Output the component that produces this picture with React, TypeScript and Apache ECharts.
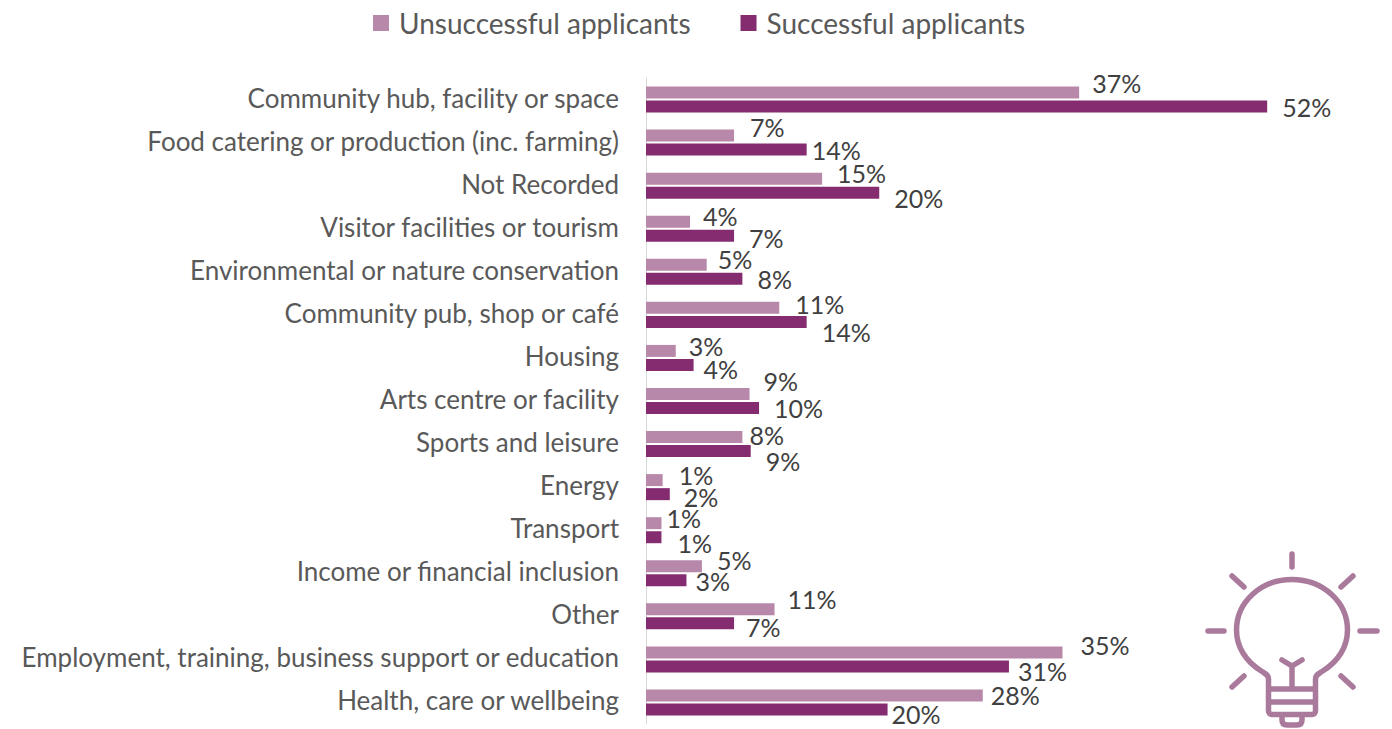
import React, { useEffect, useRef } from "react";
import * as echarts from "echarts";

const categories = [
  "Community hub, facility or space",
  "Food catering or production (inc. farming)",
  "Not Recorded",
  "Visitor facilities or tourism",
  "Environmental or nature conservation",
  "Community pub, shop or café",
  "Housing",
  "Arts centre or facility",
  "Sports and leisure",
  "Energy",
  "Transport",
  "Income or financial inclusion",
  "Other",
  "Employment, training, business support or education",
  "Health, care or wellbeing",
];
const unsuccessful = [36.4, 7.4, 14.8, 3.7, 5.1, 11.2, 2.5, 8.7, 8.1, 1.4, 1.3, 4.7, 10.8, 35.0, 28.3];
const successful = [52.2, 13.5, 19.6, 7.4, 8.1, 13.5, 4.0, 9.5, 8.8, 2.0, 1.3, 3.4, 7.4, 30.5, 20.3];
const unsuccessfulLabels = ["37%", "7%", "15%", "4%", "5%", "11%", "3%", "9%", "8%", "1%", "1%", "5%", "11%", "35%", "28%"];
const successfulLabels = ["52%", "14%", "20%", "7%", "8%", "14%", "4%", "10%", "9%", "2%", "1%", "3%", "7%", "31%", "20%"];

// label placement nudges, as in the source chart
const uDx = [13, 16, 15, 13, 11, 16, 13, 14, 7, 16, 5, 15, 13, 18, 8];
const uDy = [-10, -9, -6, -6, -6, -4, -5, -13, -2, -5, -5, -6, -10, -7, 0];
const sDx = [15, 5, 15, 15, 15, 15, 10, 15, 15, 14, 16, 9, 12, 9, 4];
const sDy = [0, 0, 5, 2, 0, 10, 4, 0, 10, 3, 6, 1, 4, 5, 5];

const FONT = "Lato";
const ICON = "#A97A9B";

const bulbPath =
  "M1268.5 689 L1268.5 679 C1268.5 675 1266 674 1262 671.5 C1246 662 1236.5 647 1236.5 630 C1236.5 602 1261 579.5 1292 579.5 C1323 579.5 1347.5 602 1347.5 630 C1347.5 647 1338 662 1322 671.5 C1318 674 1315.5 675 1315.5 679 L1315.5 689 " +
  "M1268.5 689 L1315.5 689 M1268.5 702 L1315.5 702 M1268.5 689 L1268.5 711 C1268.5 713 1270 714.5 1272 714.5 L1312 714.5 C1314 714.5 1315.5 713 1315.5 711 L1315.5 689 " +
  "M1282 714.5 L1282 720 C1282 723.5 1284 725 1287 725 L1297 725 C1300 725 1302 723.5 1302 720 L1302 714.5 " +
  "M1292 689 L1292 666 M1292 666 L1282 660 M1292 666 L1302 660 " +
  "M1292 554 L1292 567 M1208 631 L1224 631 M1360 631 L1377 631 M1232 576 L1244 587 M1353 576 L1341 587 M1232 687 L1244 676 M1353 687 L1341 676";

echarts.graphic.registerShape("bulb", echarts.graphic.extendPath(bulbPath, {}));

function makeData(values: number[], labels: string[], dx: number[], dy: number[]) {
  return values.map((value, i) => ({
    value,
    label: { formatter: labels[i], offset: [dx[i], dy[i]] },
  }));
}

export default function App() {
  const ref = useRef<HTMLDivElement>(null);
  useEffect(() => {
    const chart = echarts.init(ref.current!, undefined, { renderer: "svg" });
    const labelBase = {
      show: true,
      position: "right" as const,
      distance: 0,
      color: "#404040",
      fontFamily: FONT,
      fontSize: 25,
    };
    chart.setOption({
      animation: false,
      backgroundColor: "#ffffff",
      textStyle: { fontFamily: FONT },
      legend: {
        left: 368,
        top: 4,
        icon: "rect",
        itemWidth: 16,
        itemHeight: 16,
        itemGap: 50,
        textStyle: { color: "#595959", fontFamily: FONT, fontSize: 28, padding: [0, 0, 0, 5] },
        data: ["Unsuccessful applicants", "Successful applicants"],
      },
      grid: { left: 646, top: 78, width: 714, height: 646, containLabel: false },
      xAxis: { type: "value", min: 0, max: 60, show: false },
      yAxis: {
        type: "category",
        inverse: true,
        data: categories,
        axisLine: { show: true, lineStyle: { color: "#D9D9D9", width: 1 } },
        axisTick: { show: false },
        axisLabel: {
          margin: 27,
          interval: 0,
          formatter: "{a|{value}}",
          rich: { a: { color: "#595959", fontFamily: FONT, fontSize: 26, padding: [0, 0, 4, 0] } },
        },
      },
      series: [
        {
          name: "Unsuccessful applicants",
          type: "bar",
          barWidth: 12,
          barGap: "17%",
          itemStyle: { color: "#B788A9" },
          label: labelBase,
          data: makeData(unsuccessful, unsuccessfulLabels, uDx, uDy),
        },
        {
          name: "Successful applicants",
          type: "bar",
          barWidth: 12,
          itemStyle: { color: "#852C71" },
          label: labelBase,
          data: makeData(successful, successfulLabels, sDx, sDy),
        },
      ],
      graphic: [
        {
          type: "bulb",
          x: 0,
          y: 0,
          silent: true,
          style: { fill: "none", stroke: ICON, lineWidth: 5.5, lineCap: "round", lineJoin: "round" },
        },
      ],
    });
    return () => chart.dispose();
  }, []);
  return <div ref={ref} style={{ position: "fixed", left: 0, top: 0, width: 1392, height: 729 }} />;
}
